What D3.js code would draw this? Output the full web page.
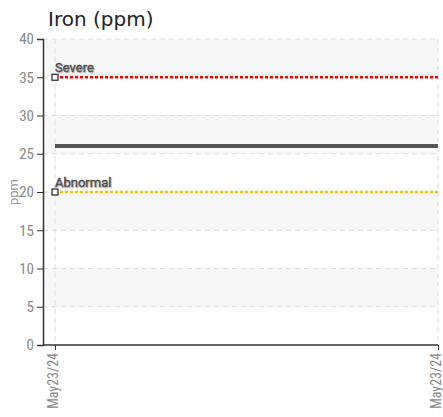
<!DOCTYPE html>
<html>
<head>
<meta charset="utf-8">
<script src="https://cdn.jsdelivr.net/npm/d3@7"></script>
<style>
  body { margin: 0; background: #fff; }
  .tick text { font-family: "Liberation Sans Narrow", "Roboto Condensed", Roboto, sans-serif; fill: #888; }
</style>
</head>
<body>
<svg id="chart"></svg>
<script>
const dates = ['May23/24', 'May23/24'];
const readings = [26, 26];
const limits = [
  { name: 'Severe', value: 35, color: '#ff0000' },
  { name: 'Abnormal', value: 20, color: '#f2c500' }
];
const yTicks = [0, 5, 10, 15, 20, 25, 30, 35, 40];

const width = 443;
const height = 417;
const margin = { top: 39, right: 5, bottom: 72, left: 43 };

const svg = d3.select('#chart')
  .attr('width', width)
  .attr('height', height);

const innerW = width - margin.left - margin.right;
const innerH = height - margin.top - margin.bottom;

const g = svg.append('g')
  .attr('transform', `translate(${margin.left},${margin.top})`);

const x = d3.scalePoint()
  .domain(d3.range(dates.length))
  .range([12, innerW]);

const y = d3.scaleLinear()
  .domain([0, 40])
  .range([innerH, 0]);

// alternating bands
for (let i = 0; i < yTicks.length - 1; i++) {
  if ((yTicks.length - 2 - i) % 2 === 0) {
    g.append('rect')
      .attr('x', 0)
      .attr('y', y(yTicks[i + 1]))
      .attr('width', innerW)
      .attr('height', y(yTicks[i]) - y(yTicks[i + 1]))
      .attr('fill', '#f7f7f7');
  }
}

// grid
g.selectAll('.hgrid')
  .data(yTicks.slice(1))
  .enter()
  .append('line')
  .attr('x1', 0)
  .attr('x2', innerW)
  .attr('y1', d => y(d))
  .attr('y2', d => y(d))
  .attr('stroke', '#ddd')
  .attr('stroke-dasharray', '5,4');

g.selectAll('.vgrid')
  .data(d3.range(dates.length))
  .enter()
  .append('line')
  .attr('x1', d => x(d))
  .attr('x2', d => x(d))
  .attr('y1', 0)
  .attr('y2', innerH)
  .attr('stroke', '#ddd')
  .attr('stroke-dasharray', '5,4');

// limit lines
limits.forEach(l => {
  g.append('line')
    .attr('x1', x(0))
    .attr('x2', x(dates.length - 1))
    .attr('y1', y(l.value))
    .attr('y2', y(l.value))
    .attr('stroke', l.color)
    .attr('stroke-width', 2.5)
    .attr('stroke-dasharray', '3,2');
  g.append('rect')
    .attr('x', x(0) - 3)
    .attr('y', y(l.value) - 3)
    .attr('width', 6)
    .attr('height', 6)
    .attr('fill', '#fff')
    .attr('stroke', '#222')
    .attr('stroke-width', 1.2);
  g.append('text')
    .attr('x', x(0))
    .attr('y', y(l.value) - 5)
    .attr('font-family', '"Liberation Sans Narrow", Roboto, sans-serif')
    .attr('font-size', 13)
    .attr('fill', '#111')
    .attr('stroke', '#555')
    .attr('stroke-width', 0.4)
    .style('text-shadow', '1px 1px 1px #bbb')
    .text(l.name);
});

// reading line
g.append('path')
  .datum(readings)
  .attr('fill', 'none')
  .attr('stroke', '#555')
  .attr('stroke-width', 4)
  .attr('d', d3.line().x((d, i) => x(i)).y(d => y(d)));

// axes
const yAxis = g.append('g')
  .call(d3.axisLeft(y).tickValues(yTicks).tickSize(6).tickPadding(3));
yAxis.select('.domain').attr('stroke', '#333').attr('stroke-width', 1.5);
yAxis.selectAll('.tick line').attr('stroke', '#333');
yAxis.selectAll('.tick text').attr('font-size', 15);

const xAxis = g.append('g')
  .attr('transform', `translate(0,${innerH})`)
  .call(d3.axisBottom(x).tickFormat(i => dates[i]).tickSize(5).tickSizeOuter(0));
xAxis.select('.domain').attr('stroke', '#333').attr('stroke-width', 1.5)
  .attr('d', `M0,0H${innerW}`);
xAxis.selectAll('.tick line').attr('stroke', '#333');
xAxis.selectAll('.tick text')
  .attr('font-size', 14)
  .attr('transform', 'rotate(-90)')
  .attr('text-anchor', 'end')
  .attr('x', -8)
  .attr('y', 0)
  .attr('dy', '0.15em');

// axis title
svg.append('text')
  .attr('transform', `translate(18,${margin.top + y(20)}) rotate(-90)`)
  .attr('text-anchor', 'middle')
  .attr('font-family', '"Liberation Sans Narrow", Roboto, sans-serif')
  .attr('font-size', 13)
  .attr('fill', '#999')
  .text('ppm');

// chart title
svg.append('text')
  .attr('x', 48)
  .attr('y', 26)
  .attr('font-family', '"DejaVu Sans", sans-serif')
  .attr('font-size', 20)
  .attr('fill', '#222')
  .text('Iron (ppm)');
</script>
</body>
</html>
